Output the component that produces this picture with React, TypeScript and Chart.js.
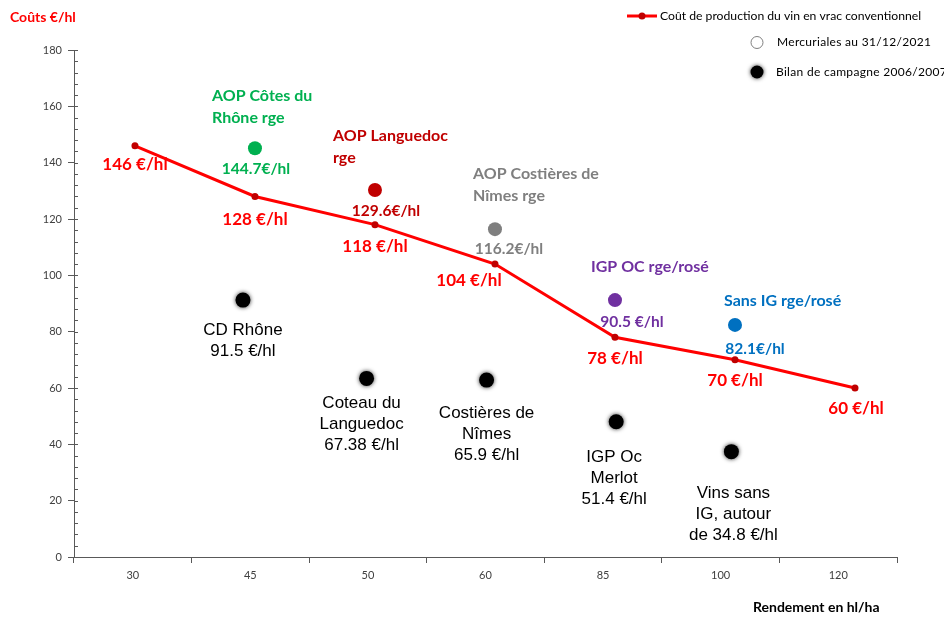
import React, { useEffect, useRef } from 'react';
import { Chart, registerables } from 'chart.js';

Chart.register(...registerables);

// ---------- DATA ----------
const categories = ['30', '45', '50', '60', '85', '100', '120'];
const costValues = [146, 128, 118, 104, 78, 70, 60];
const costLabels = ['146 €/hl', '128 €/hl', '118 €/hl', '104 €/hl', '78 €/hl', '70 €/hl', '60 €/hl'];

const mercX = [1, 2, 3, 4, 5];
const mercY = [145.1, 130.3, 116.4, 91.2, 82.4];
const mercNames = [
  ['AOP Côtes du', 'Rhône rge'],
  ['AOP Languedoc', 'rge'],
  ['AOP Costières de', 'Nîmes rge'],
  ['IGP OC rge/rosé'],
  ['Sans IG rge/rosé'],
];
const mercValueLabels = ['144.7€/hl', '129.6€/hl', '116.2€/hl', '90.5 €/hl', '82.1€/hl'];

const bilanX = [0.9, 1.93, 2.93, 4.01, 4.97];
const bilanY = [91.2, 63.4, 62.8, 48.0, 37.4];
const bilanLabels = [
  ['CD Rhône', '91.5 €/hl'],
  ['Coteau du', 'Languedoc', '67.38 €/hl'],
  ['Costières de', 'Nîmes', '65.9 €/hl'],
  ['IGP Oc', 'Merlot', '51.4 €/hl'],
  ['Vins sans', 'IG, autour', 'de 34.8 €/hl'],
];

const seriesNames = [
  'Coût de production du vin en vrac conventionnel',
  'Mercuriales au 31/12/2021',
  'Bilan de campagne 2006/2007',
];
const yAxisTitle = 'Coûts €/hl';
const xAxisTitle = 'Rendement en hl/ha';

// ---------- STYLE / LAYOUT ----------
const mercColors = ['#00B050', '#C00000', '#7F7F7F', '#7030A0', '#0070C0'];
const costLabelOffsets = [[0, 19], [0, 23], [0, 22], [-26, 16], [0, 21], [0, 21], [1, 21]];
const mercValueOffsets = [[1, 21], [11, 21], [14, 20], [17, 22], [20, 24]];
const mercNameOffsets = [[-43, -52], [-42, -54], [-22, -55], [-24, -33], [-11, -24]];
const bilanOffsets = [[0, 30], [-5, 25], [0, 33], [-2, 36], [2, 42]];
const FONT = 'Lato, "Open Sans", sans-serif';

const annotPlugin = {
  id: 'annot',
  beforeDatasetDraw(chart: any, args: any) {
    if (args.index === 2) {
      chart.ctx.save();
      chart.ctx.shadowColor = 'rgba(0,0,0,0.8)';
      chart.ctx.shadowBlur = 4;
    }
  },
  afterDatasetDraw(chart: any, args: any) {
    if (args.index === 2) chart.ctx.restore();
  },
  afterDraw(chart: any) {
    const ctx = chart.ctx as CanvasRenderingContext2D;
    const xs = chart.scales.xl;
    const ys = chart.scales.y;
    const area = chart.chartArea;
    ctx.save();

    // minor y ticks
    ctx.strokeStyle = '#595959';
    ctx.lineWidth = 1;
    for (let v = 0; v <= 180; v += 4) {
      const py = Math.round(ys.getPixelForValue(v)) + 0.5;
      ctx.beginPath();
      ctx.moveTo(area.left, py);
      ctx.lineTo(area.left + 4, py);
      ctx.stroke();
    }

    ctx.textBaseline = 'middle';

    // cost labels
    ctx.font = `bold 17px ${FONT}`;
    ctx.fillStyle = '#FF0000';
    ctx.textAlign = 'center';
    costValues.forEach((v, i) => {
      const px = xs.getPixelForValue(i);
      const py = ys.getPixelForValue(v);
      ctx.fillText(costLabels[i], px + costLabelOffsets[i][0], py + costLabelOffsets[i][1]);
    });

    // mercuriales labels
    mercY.forEach((v, i) => {
      const px = xs.getPixelForValue(mercX[i]);
      const py = ys.getPixelForValue(v);
      ctx.fillStyle = mercColors[i];
      ctx.font = `bold 15.5px ${FONT}`;
      ctx.textAlign = 'center';
      ctx.fillText(mercValueLabels[i], px + mercValueOffsets[i][0], py + mercValueOffsets[i][1]);
      ctx.textAlign = 'left';
      ctx.font = `bold 16px ${FONT}`;
      mercNames[i].forEach((line, j) => {
        ctx.fillText(line, px + mercNameOffsets[i][0], py + mercNameOffsets[i][1] + j * 22);
      });
    });

    // bilan labels
    ctx.fillStyle = '#000000';
    ctx.font = `17px "Liberation Sans", Arial, sans-serif`;
    ctx.textAlign = 'center';
    bilanY.forEach((v, i) => {
      const px = xs.getPixelForValue(bilanX[i]);
      const py = ys.getPixelForValue(v);
      bilanLabels[i].forEach((line, j) => {
        ctx.fillText(line, px + bilanOffsets[i][0], py + bilanOffsets[i][1] + j * 21);
      });
    });

    // axis titles
    ctx.textAlign = 'left';
    ctx.font = `bold 14px ${FONT}`;
    ctx.fillStyle = '#FF0000';
    ctx.fillText(yAxisTitle, 10, 17);
    ctx.fillStyle = '#000000';
    ctx.fillText(xAxisTitle, 753, 607);

    // legend
    ctx.strokeStyle = '#FF0000';
    ctx.lineWidth = 3;
    ctx.beginPath();
    ctx.moveTo(627, 16);
    ctx.lineTo(657, 16);
    ctx.stroke();
    ctx.fillStyle = '#C00000';
    ctx.beginPath();
    ctx.arc(642, 16, 3.5, 0, Math.PI * 2);
    ctx.fill();
    ctx.fillStyle = '#000000';
    ctx.font = `12.2px ${FONT}`;
    ctx.fillText(seriesNames[0], 660, 16);

    ctx.lineWidth = 1;
    ctx.strokeStyle = '#7F7F7F';
    ctx.fillStyle = '#FFFFFF';
    ctx.beginPath();
    ctx.arc(757, 42.5, 6, 0, Math.PI * 2);
    ctx.fill();
    ctx.stroke();

    ctx.save();
    ctx.shadowColor = 'rgba(0,0,0,0.8)';
    ctx.shadowBlur = 4;
    ctx.fillStyle = '#000000';
    ctx.beginPath();
    ctx.arc(757, 72, 6.5, 0, Math.PI * 2);
    ctx.fill();
    ctx.restore();

    ctx.fillStyle = '#000000';
    ctx.font = `12px ${FONT}`;
    (ctx as any).letterSpacing = '0.3px';
    ctx.fillText(seriesNames[1], 777, 42.5);
    ctx.fillText(seriesNames[2], 776, 72);
    (ctx as any).letterSpacing = '0px';

    ctx.restore();
  },
};

export default function App() {
  const canvasRef = useRef<HTMLCanvasElement | null>(null);

  useEffect(() => {
    if (!canvasRef.current) return;
    const chart = new Chart(canvasRef.current, {
      type: 'line',
      data: {
        labels: categories,
        datasets: [
          {
            label: seriesNames[0],
            data: costValues.map((v, i) => ({ x: i, y: v })),
            xAxisID: 'xl',
            yAxisID: 'y',
            borderColor: '#FF0000',
            borderWidth: 3,
            pointRadius: 3.5,
            pointBackgroundColor: '#C00000',
            pointBorderColor: '#C00000',
            pointBorderWidth: 0,
            tension: 0,
          },
          {
            label: seriesNames[1],
            data: mercY.map((v, i) => ({ x: mercX[i], y: v })),
            xAxisID: 'xl',
            yAxisID: 'y',
            showLine: false,
            pointRadius: 7,
            pointBackgroundColor: mercColors,
            pointBorderColor: mercColors,
            pointBorderWidth: 0,
          },
          {
            label: seriesNames[2],
            data: bilanY.map((v, i) => ({ x: bilanX[i], y: v })),
            xAxisID: 'xl',
            yAxisID: 'y',
            showLine: false,
            pointRadius: 7.5,
            pointBackgroundColor: '#000000',
            pointBorderColor: '#000000',
            pointBorderWidth: 0,
          },
        ],
      },
      options: {
        responsive: false,
        animation: false,
        layout: { padding: { left: 0, right: 47, top: 50, bottom: 0 } },
        plugins: { legend: { display: false }, tooltip: { enabled: false } },
        scales: {
          x: {
            type: 'category',
            offset: true,
            grid: { offset: true, drawOnChartArea: false, tickLength: 6, color: '#595959' },
            border: { color: '#595959', width: 1 },
            ticks: { font: { family: FONT, size: 11 }, color: '#404040', padding: 6 },
            afterFit: (s: any) => { s.height = 60; },
          },
          xl: {
            type: 'linear',
            display: false,
            min: -0.508,
            max: 6.35,
          },
          y: {
            type: 'linear',
            min: 0,
            max: 180,
            ticks: { stepSize: 20, font: { family: FONT, size: 11 }, color: '#404040', padding: 6 },
            grid: { drawOnChartArea: false, tickLength: 6, color: '#595959' },
            border: { color: '#595959', width: 1 },
            afterFit: (s: any) => { s.width = 74; },
          },
        },
      } as any,
      plugins: [annotPlugin],
    });
    return () => chart.destroy();
  }, []);

  return (
    <div style={{ position: 'fixed', left: 0, top: 0, width: 944, height: 617, background: '#fff' }}>
      <canvas ref={canvasRef} width={944} height={617} style={{ display: 'block' }} />
    </div>
  );
}
